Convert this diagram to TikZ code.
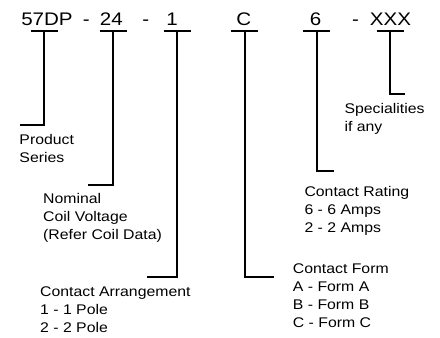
\documentclass[tikz,border=0pt]{standalone}
\usepackage{fontspec}
\setmainfont{Liberation Sans}
\newfontfamily\widefont[FakeStretch=1.13,NFSSFamily=widefam]{Liberation Sans}
\tikzset{
  stem/.style={line width=2pt},
  code/.style={inner sep=0pt,anchor=base,font=\widefont\fontsize{18.2}{22}\selectfont},
  note/.style={inner sep=0pt,anchor=base west,align=left,font=\widefont\fontsize{14}{18}\selectfont}
}
\begin{document}
\begin{tikzpicture}[x=1pt,y=-1pt]
      \useasboundingbox (0,0) rectangle (440,338);
      \node[code] (series) at (47,25) {57DP};
      \node[code] (dash1) at (86.3,25) {-};
      \node[code] (coil) at (111.3,25) {24};
      \node[code] (dash2) at (145.8,25) {-};
      \node[code] (arrange) at (172,25) {1};
      \node[code] (form) at (243.7,25) {C};
      \node[code] (rating) at (315.5,25) {6};
      \node[code] (dash3) at (355.5,25) {-};
      \node[code] (special) at (390.5,25) {XXX};
      \coordinate (series-t) at (44.3,31);
      \coordinate (coil-t) at (113,31);
      \coordinate (arrange-t) at (177,31);
      \coordinate (form-t) at (244.5,31);
      \coordinate (rating-t) at (316.7,31);
      \coordinate (special-t) at (390,31);
      \coordinate (series-e) at (20,125.3);
      \coordinate (coil-e) at (88.3,185);
      \coordinate (arrange-e) at (147,276.7);
      \coordinate (form-e) at (274.3,276.7);
      \coordinate (rating-e) at (334.3,170.7);
      \coordinate (special-e) at (405,94);
      \draw[stem] ([xshift=-13.5pt]series-t) -- ([xshift=13.5pt]series-t);
      \draw[stem] ([xshift=-13.5pt]coil-t) -- ([xshift=13.5pt]coil-t);
      \draw[stem] ([xshift=-13.5pt]arrange-t) -- ([xshift=13.5pt]arrange-t);
      \draw[stem] ([xshift=-13.5pt]form-t) -- ([xshift=13.5pt]form-t);
      \draw[stem] ([xshift=-13.5pt]rating-t) -- ([xshift=13.5pt]rating-t);
      \draw[stem] ([xshift=-13.5pt]special-t) -- ([xshift=13.5pt]special-t);
      \draw[stem] (series-t) |- (series-e);
      \draw[stem] (coil-t) |- (coil-e);
      \draw[stem] (arrange-t) |- (arrange-e);
      \draw[stem] (form-t) |- (form-e);
      \draw[stem] (rating-t) |- (rating-e);
      \draw[stem] (special-t) |- (special-e);
      \node[note] (series-n) at (19.3,162.7) {Product\\Series};
      \node[note] (coil-n) at (43,239.3) {Nominal\\Coil Voltage\\(Refer Coil Data)};
      \node[note] (arrange-n) at (40,332.7) {Contact Arrangement\\1 - 1 Pole\\2 - 2 Pole};
      \node[note] (form-n) at (292.7,327.3) {Contact Form\\A - Form A\\B - Form B\\C - Form C};
      \node[note] (rating-n) at (304.3,232.7) {Contact Rating\\6 - 6 Amps\\2 - 2 Amps};
      \node[note] (special-n) at (344.3,131.3) {Specialities\\if any};
\end{tikzpicture}
\end{document}
